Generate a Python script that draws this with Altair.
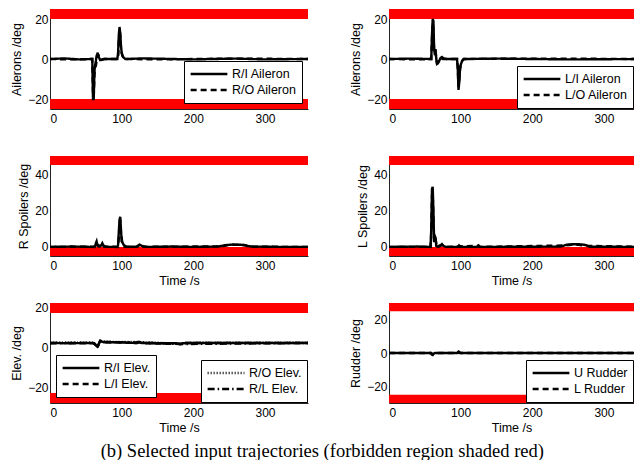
import altair as alt
import pandas as pd

# ---------------- data ----------------
X_MAX_LEFT = 360
X_MAX_RIGHT = 342
X_TICKS = [0, 100, 200, 300]

# Right ailerons
RI_AIL_T = [0, 20, 40, 59, 60, 61, 62, 63, 64, 65, 66, 67, 68, 70, 72, 75, 80, 94, 95, 96, 97, 98, 99, 100, 102, 105, 130, 200, 260, 300, 360]
RI_AIL_V = [0, 0.3, -0.2, 0, -20, -20, -6, -3, -1, 1.5, 2.5, 2.2, 1, -0.5, -0.3, 0, 0, 0, 3, 12, 16, 13, 7, 3, 1, 0, 0.3, -0.2, 0.2, -0.2, 0]
RO_AIL_T = [0, 30, 59, 60, 61, 62, 63, 64, 65, 66, 67, 69, 72, 76, 95, 96, 97, 98, 99, 101, 104, 150, 250, 360]
RO_AIL_V = [0, -0.2, 0, -18, -19, -8, -4, -3.5, -1, 1.8, 2.4, 1.2, -0.4, 0, 0, 8, 15, 12, 5, 1.5, 0, -0.2, 0.2, 0]

# Left ailerons
LI_AIL_T = [0, 30, 59, 60, 61, 62, 63, 64, 65, 66, 67, 68, 70, 72, 74, 76, 80, 95, 96, 97, 98, 99, 100, 102, 105, 150, 250, 360]
LI_AIL_V = [0, 0.2, 0, 12, 20, 19, 5, 2, 5, 0, -2.5, -2.3, -1, 0.5, 1, 0.3, 0, 0, -5, -15.5, -12, -6, -3, -1, 0, 0.2, -0.2, 0]
LO_AIL_T = [0, 40, 59, 60, 61, 62, 63, 64, 65, 66, 67, 69, 72, 75, 95, 96, 97, 98, 99, 101, 104, 200, 360]
LO_AIL_V = [0, -0.2, 0, 10, 18, 15, 4, 3, 4, -0.5, -2, -1.5, 0.6, 0, 0, -4, -14, -11, -5, -1.5, 0, 0.2, 0]

# Right spoilers
RSP1_T = [0, 30, 60, 63, 64, 65, 66, 68, 70, 72, 73, 74, 76, 80, 94, 95, 96, 97, 98, 99, 100, 101, 103, 106, 120, 123, 125, 128, 135, 170, 200, 235, 245, 255, 265, 272, 280, 320, 360]
RSP1_V = [0, 0.2, 0, 0.3, 2, 3, 1, 0.3, 0.2, 1.2, 2, 1.2, 0.3, 0, 0, 1, 8, 15, 16.5, 10, 3, 2.5, 1, 0.2, 0, 0.8, 1.3, 0.6, 0, 0.2, 0, 0.2, 1, 1.3, 1.2, 1.0, 0.2, 0, 0]
RSP2_T = [0, 50, 62, 64, 65, 67, 72, 73, 75, 95, 96, 97, 98, 99, 101, 104, 122, 125, 130, 240, 250, 262, 272, 278, 360]
RSP2_V = [0, 0.1, 0, 2, 2.5, 0.5, 1, 1.6, 0.2, 0, 5, 13, 15, 8, 2, 0, 0, 1, 0, 0.3, 1.1, 1.2, 0.9, 0.1, 0]

# Left spoilers
LSP1_T = [0, 40, 58, 59, 60, 61, 62, 63, 64, 65, 66, 68, 72, 74, 76, 80, 97, 98, 100, 123, 125, 127, 200, 240, 248, 258, 268, 275, 280, 360]
LSP1_V = [0, 0.2, 0, 10, 32, 33, 20, 3, 6, 5, 0.5, 0, 0.5, 1.5, 0.5, 0, 0, 0.8, 0, 0, 0.8, 0, 0.1, 0.2, 1.2, 1.5, 1.4, 1.0, 0.1, 0]
LSP2_T = [0, 58, 59, 60, 61, 62, 63, 64, 65, 67, 73, 75, 78, 124, 126, 245, 255, 265, 273, 360]
LSP2_V = [0, 0, 8, 28, 30, 15, 2, 4, 4, 0, 1.2, 1, 0, 0.6, 0, 0.8, 1.2, 1.2, 0.6, 0]

# Elevators
RI_ELV_T = [0, 30, 60, 62, 64, 66, 68, 70, 72, 75, 80, 100, 110, 120, 124, 128, 140, 175, 182, 185, 190, 250, 300, 360]
RI_ELV_V = [2, 1.9, 2, 1.8, 0.8, 0.2, 1.5, 3.2, 2.8, 2.3, 2.4, 2.4, 2.1, 2.0, 2.6, 2.0, 1.9, 1.9, 1.4, 1.9, 2.0, 2.0, 2.0, 2.0]
LI_ELV_T = [0, 40, 61, 63, 65, 67, 69, 71, 74, 90, 122, 125, 130, 183, 188, 360]
LI_ELV_V = [1.9, 2, 1.9, 1.2, 0.4, 0.6, 2.4, 3.0, 2.4, 2.3, 2.0, 2.4, 1.9, 1.5, 2.0, 2.0]
RO_ELV_T = [0, 60, 63, 66, 69, 72, 90, 124, 183, 200, 360]
RO_ELV_V = [2.1, 2.1, 1.4, 0.5, 2.2, 2.9, 2.5, 2.5, 1.6, 2.2, 2.1]
RL_ELV_T = [0, 60, 64, 67, 70, 73, 100, 125, 184, 360]
RL_ELV_V = [2, 2, 1.0, 0.4, 2.8, 2.6, 2.3, 2.3, 1.5, 2.0]

# Rudder
U_RUD_T = [0, 58, 60, 61, 62, 64, 95, 97, 99, 360]
U_RUD_V = [0, 0, -1, -1.2, -0.5, 0, 0, 0.8, 0, 0]
L_RUD_T = [0, 59, 61, 63, 96, 98, 100, 360]
L_RUD_V = [0, 0, -0.9, 0, 0, 0.6, 0, 0]

# Forbidden regions (lower, upper) per panel
AIL_BANDS = [(20, 25), (-25, -20)]
SPL_BANDS = [(45, 50), (-5, 0)]
ELV_BANDS = [(17, 22), (-28, -23)]
RUD_BANDS = [(25, 30), (-30, -25)]

AIL_DOMAIN = [-25, 25]
SPL_DOMAIN = [-5, 50]
ELV_DOMAIN = [-28, 22]
RUD_DOMAIN = [-30, 30]

SYM_TICKS = [-20, 0, 20]
SPL_TICKS = [0, 20, 40]

CAPTION = "(b) Selected input trajectories (forbidden region shaded red)"

# ---------------- styling ----------------
W_LEFT = 258
W_RIGHT = 245
H = 100
FONT = "Liberation Sans"

DASHES = {
    "solid": [1, 0],
    "dash": [6, 4],
    "dot": [1, 2],
    "dashdot": [7, 3, 1.5, 3],
}


def long_df(names, ts, vs):
    rows = []
    for n, t, v in zip(names, ts, vs):
        for ti, vi in zip(t, v):
            rows.append({"t": ti, "v": vi, "s": n})
    return pd.DataFrame(rows)


def legend(orient, offset):
    return alt.Legend(
        orient=orient, offset=offset, title=None, symbolType="stroke",
        symbolStrokeColor="black", symbolStrokeWidth=2.5, symbolSize=1350,
        labelFontSize=12.5, labelFont=FONT, labelColor="black",
        strokeColor="black", fillColor="white", padding=5, clipHeight=16,
        rowPadding=0, labelOffset=3, cornerRadius=0, symbolOpacity=1,
    )


def panel(line_groups, bands, domain, yticks, ytitle, xtitle, xmax, width):
    xs = alt.Scale(domain=[0, xmax], nice=False, zero=False)
    ys = alt.Scale(domain=domain, nice=False, zero=False)
    x_axis = alt.Axis(values=X_TICKS, title=xtitle, titleFontWeight="normal")
    y_axis = alt.Axis(values=yticks, title=ytitle, titleFontWeight="normal")
    bdf = pd.DataFrame({"lo": [b[0] for b in bands], "hi": [b[1] for b in bands],
                        "t0": [0] * len(bands), "t1": [360] * len(bands)})
    band_layer = alt.Chart(bdf).mark_rect(color="#ff0000", clip=True).encode(
        x=alt.X("t0:Q", scale=xs, axis=x_axis), x2="t1:Q",
        y=alt.Y("lo:Q", scale=ys, axis=y_axis), y2="hi:Q",
    )
    layers = [band_layer]
    for names, ts, vs, styles, leg in line_groups:
        df = long_df(names, ts, vs)
        layers.append(
            alt.Chart(df).mark_line(color="black", strokeWidth=2.4, clip=True).encode(
                x=alt.X("t:Q", scale=xs, axis=x_axis),
                y=alt.Y("v:Q", scale=ys, axis=y_axis),
                strokeDash=alt.StrokeDash(
                    "s:N",
                    scale=alt.Scale(domain=names, range=[DASHES[s] for s in styles]),
                    legend=leg,
                    sort=names,
                ),
            )
        )
    ch = alt.layer(*layers).properties(width=width, height=H)
    if len(line_groups) > 1:
        ch = ch.resolve_scale(strokeDash="independent").resolve_legend(strokeDash="independent")
    return ch


p1 = panel([(["R/I Aileron", "R/O Aileron"], [RI_AIL_T, RO_AIL_T], [RI_AIL_V, RO_AIL_V],
             ["solid", "dash"], legend("bottom-right", 6))],
           AIL_BANDS, AIL_DOMAIN, SYM_TICKS, "Ailerons /deg", None, X_MAX_LEFT, W_LEFT)
p2 = panel([(["L/I Aileron", "L/O Aileron"], [LI_AIL_T, LO_AIL_T], [LI_AIL_V, LO_AIL_V],
             ["solid", "dash"], legend("bottom-right", 1))],
           AIL_BANDS, AIL_DOMAIN, SYM_TICKS, "Ailerons /deg", None, X_MAX_RIGHT, W_RIGHT)
p3 = panel([(["R spoiler 1", "R spoiler 2"], [RSP1_T, RSP2_T], [RSP1_V, RSP2_V],
             ["solid", "dash"], None)],
           SPL_BANDS, SPL_DOMAIN, SPL_TICKS, "R Spoilers /deg", "Time /s", X_MAX_LEFT, W_LEFT)
p4 = panel([(["L spoiler 1", "L spoiler 2"], [LSP1_T, LSP2_T], [LSP1_V, LSP2_V],
             ["solid", "dash"], None)],
           SPL_BANDS, SPL_DOMAIN, SPL_TICKS, "L Spoilers /deg", "Time /s", X_MAX_RIGHT, W_RIGHT)
p5 = panel([(["R/I Elev.", "L/I Elev."], [RI_ELV_T, LI_ELV_T], [RI_ELV_V, LI_ELV_V],
             ["solid", "dash"], legend("bottom-left", 6)),
            (["R/O Elev.", "R/L Elev."], [RO_ELV_T, RL_ELV_T], [RO_ELV_V, RL_ELV_V],
             ["dot", "dashdot"], legend("bottom-right", 1))],
           ELV_BANDS, ELV_DOMAIN, SYM_TICKS, "Elev. /deg", "Time /s", X_MAX_LEFT, W_LEFT)
p6 = panel([(["U Rudder", "L Rudder"], [U_RUD_T, L_RUD_T], [U_RUD_V, L_RUD_V],
             ["solid", "dash"], legend("bottom-right", 1))],
           RUD_BANDS, RUD_DOMAIN, SYM_TICKS, "Rudder /deg", "Time /s", X_MAX_RIGHT, W_RIGHT)

chart = alt.concat(
    p1, p2, p3, p4, p5, p6, columns=2, spacing={"row": 47, "column": 81}, bounds="flush",
).resolve_scale(
    x="independent", y="independent", strokeDash="independent"
).resolve_legend(strokeDash="independent").properties(
    title=alt.TitleParams(CAPTION, orient="bottom", anchor="middle", font="Liberation Serif",
                          fontSize=18.5, fontWeight="normal", color="black", offset=8),
    padding={"left": 2, "top": 1, "right": 0, "bottom": 0},
).configure_view(stroke=None).configure_axis(
    grid=False, ticks=False, tickSize=0, domainColor="#222222", domainWidth=1,
    labelFont=FONT, labelFontSize=12, labelColor="black", labelPadding=3,
    titleFont=FONT, titleFontSize=12.5, titleFontWeight="normal", titleColor="black",
).configure_axisY(titlePadding=4, labelPadding=2).configure_axisX(titlePadding=3, labelPadding=4)

chart.save("out.html", embed_options={"renderer": "svg", "actions": False})
